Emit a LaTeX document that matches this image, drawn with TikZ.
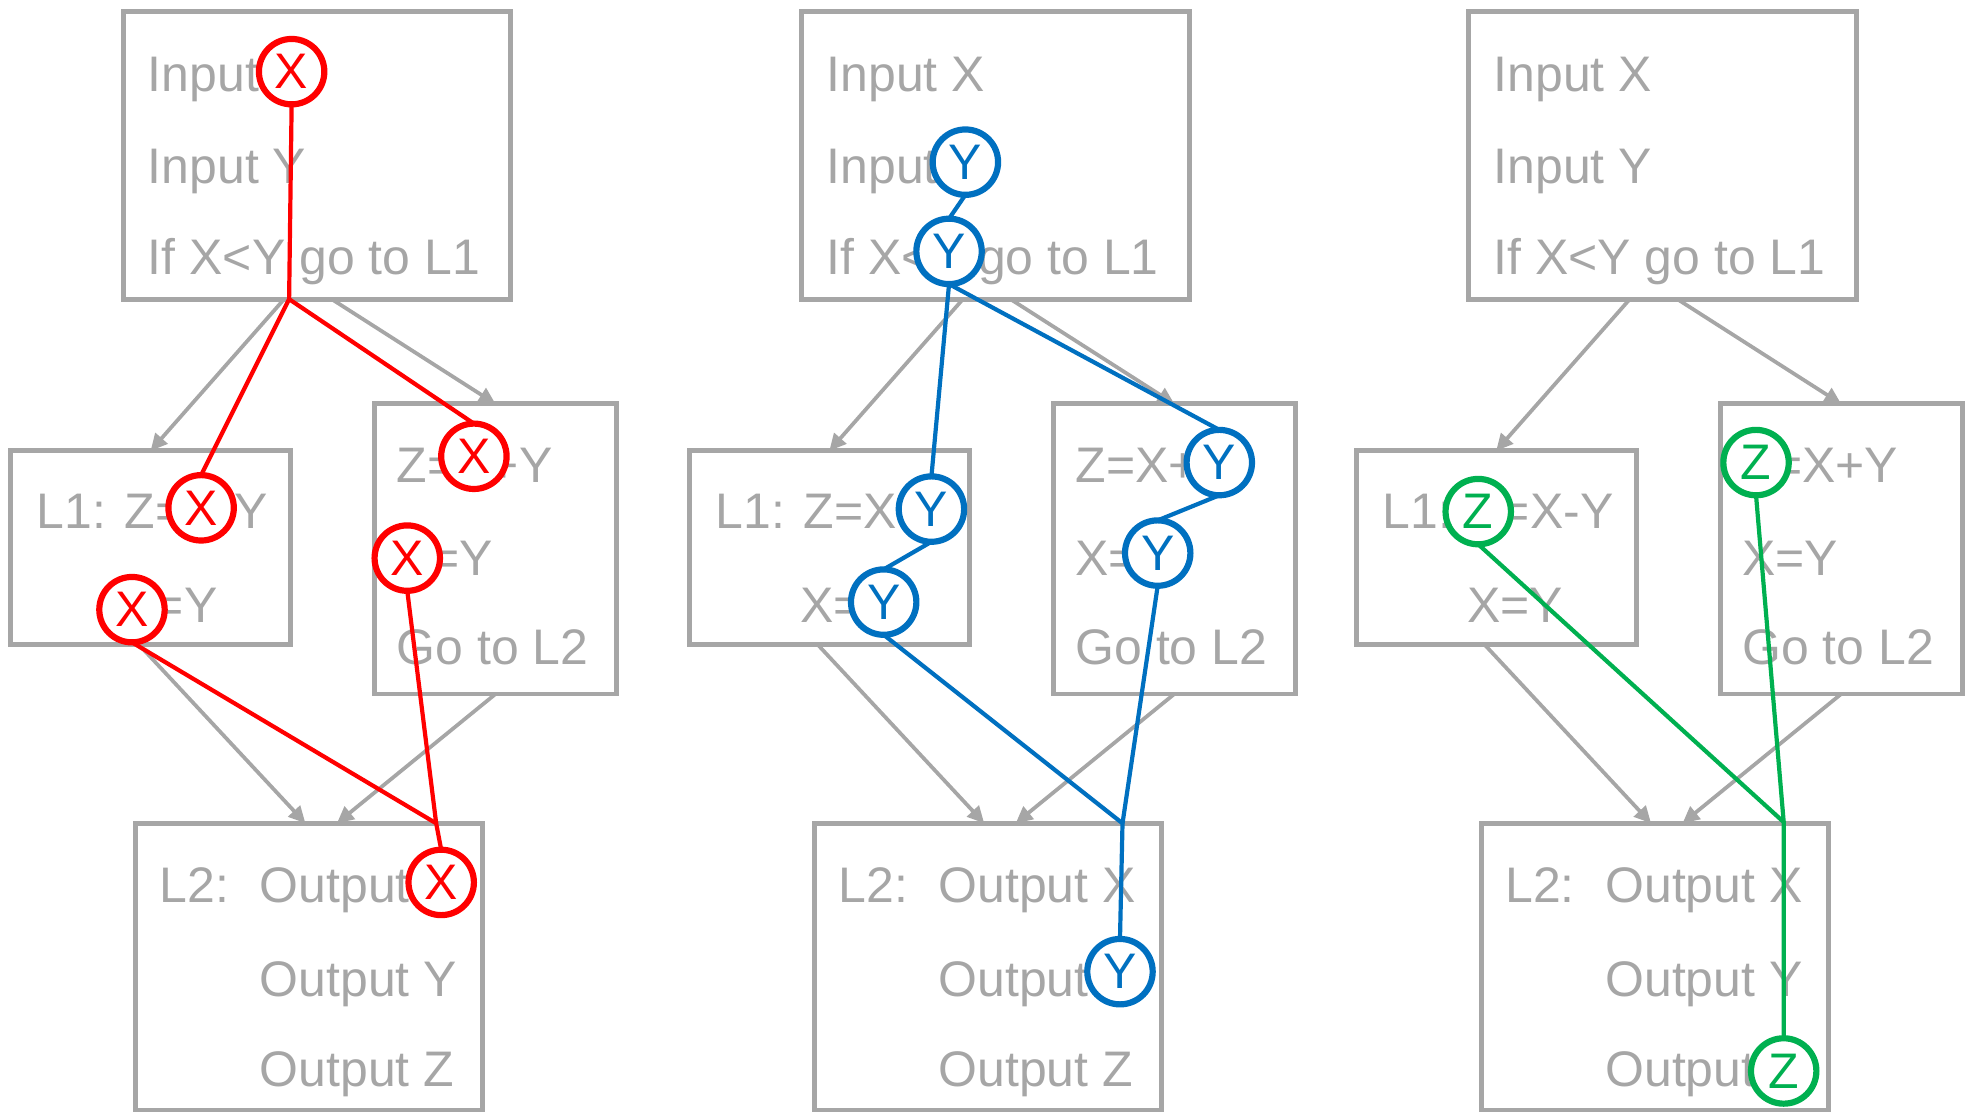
\documentclass[tikz,border=0pt]{standalone}
\usepackage{fontspec}
\setmainfont{Liberation Sans}
\usetikzlibrary{arrows.meta}
\definecolor{abuteks}{RGB}{166,166,166}
\definecolor{merahjejak}{RGB}{255,0,0}
\definecolor{birujejak}{RGB}{0,112,192}
\definecolor{hijaujejak}{RGB}{0,176,80}
\pgfdeclarelayer{back}
\pgfdeclarelayer{flow}
\pgfsetlayers{back,flow,main}

\begin{document}
\begin{tikzpicture}[
    x=0.01cm, y=-0.01cm,
    font=\fontsize{11.3}{13.5}\selectfont,
    blok/.style={draw=abuteks, line width=1.1pt, inner sep=0pt, outer sep=0pt},
    baris/.style={anchor=base west, inner sep=0pt, text=abuteks},
    arah/.style={draw=abuteks, line width=0.85pt, -{Triangle[length=3.8pt, width=3.6pt]}},
    tanda/.style={circle, draw=#1, text=#1, fill=white, line width=1.4pt,
                  minimum size=0.52cm, inner sep=0pt, outer sep=0pt},
    jejak/.style={draw=#1, line width=0.95pt}
  ]
    \useasboundingbox (0,0) rectangle (1568,885);

    % the same program, three times
    \begin{pgfonlayer}{back}
    \foreach \i/\dx in {1/0, 2/540, 3/1070.5} {
      \begin{scope}[shift={(\dx,0)}]
        \node[blok, minimum width=3.08cm, minimum height=2.29cm] (atas\i) at (252,123.5) {};
        \node[blok, minimum width=2.225cm, minimum height=1.543cm] (kiri\i) at (119.75,435.85) {};
        \node[blok, minimum width=1.925cm, minimum height=2.306cm] (kanan\i) at (394.25,436.7) {};
        \node[blok, minimum width=2.76cm, minimum height=2.28cm] (akhir\i) at (246,769) {};

        \node[baris] (inx\i) at (117,72.8) {Input X};
        \node[baris] (iny\i) at (117,145.6) {Input Y};
        \node[baris] (jika\i) at (117,218.5) {If X<Y go to L1};
        \node[baris] (lsatu\i) at (28.6,420.8) {L1: Z=X-Y};
        \node[baris] (lxy\i) at (96,495.5) {X=Y};
        \node[baris] (tambah\i) at (315,383.6) {Z=X+Y};
        \node[baris] (rxy\i) at (315,458) {X=Y};
        \node[baris] (lompat\i) at (315,529) {Go to L2};
        \node[baris] (ldua\i) at (126.4,718) {L2:};
        \node[baris] (ox\i) at (206,718) {Output X};
        \node[baris] (oy\i) at (206,792.5) {Output Y};
        \node[baris] (oz\i) at (206,864.5) {Output Z};

        \draw[arah] ([xshift=-0.26cm]atas\i.south) -- (kiri\i.north);
        \draw[arah] ([xshift=0.12cm]atas\i.south) -- (kanan\i.north);
        \draw[arah] ([xshift=-0.09cm]kiri\i.south) -- ([xshift=-0.03cm]akhir\i.north);
        \draw[arah] (kanan\i.south) -- ([xshift=0.22cm]akhir\i.north);
      \end{scope}
    }
    \end{pgfonlayer}

    % slice on X
    \node[tanda=merahjejak] (mx0) at (232,57) {X};
    \node[tanda=merahjejak] (mx1) at (160,404) {X};
    \node[tanda=merahjejak] (mx2) at (105,485) {X};
    \node[tanda=merahjejak] (mx3) at (377,363) {X};
    \node[tanda=merahjejak] (mx4) at (324,444) {X};
    \node[tanda=merahjejak] (mx5) at (351,702) {X};
    \coordinate (mj1) at (230,238);
    \coordinate (mj2) at (347,655);

    % slice on Y
    \node[tanda=birujejak] (by0) at (768,129) {Y};
    \node[tanda=birujejak] (by1) at (755,200) {Y};
    \node[tanda=birujejak] (by2) at (741,405) {Y};
    \node[tanda=birujejak] (by3) at (703,479) {Y};
    \node[tanda=birujejak] (by4) at (970,368) {Y};
    \node[tanda=birujejak] (by5) at (921,440) {Y};
    \node[tanda=birujejak] (by6) at (891,773) {Y};
    \coordinate (bj) at (893,655);

    % slice on Z
    \node[tanda=hijaujejak] (hz1) at (1176,407) {Z};
    \node[tanda=hijaujejak] (hz2) at (1397,368) {Z};
    \node[tanda=hijaujejak] (hz3) at (1419,852) {Z};
    \coordinate (hj) at (1419,654);

    \begin{pgfonlayer}{flow}
    \draw[jejak=merahjejak] (mx0.south) -- (mj1) -- (mx1.north);
    \draw[jejak=merahjejak] (mj1) -- (mx3.north);
    \draw[jejak=merahjejak] (mx2.south) -- (mj2) -- (mx5.north);
    \draw[jejak=merahjejak] (mx4.south) -- (mj2);

    \draw[jejak=birujejak] (by0.south) -- (by1.north);
    \draw[jejak=birujejak] (by1.south) -- (by2.north);
    \draw[jejak=birujejak] (by2.south) -- (by3.north);
    \draw[jejak=birujejak] (by1.south) -- (by4.north);
    \draw[jejak=birujejak] (by4.south) -- (by5.north);
    \draw[jejak=birujejak] (by3.south) -- (bj) -- (by6.north);
    \draw[jejak=birujejak] (by5.south) -- (bj);

    \draw[jejak=hijaujejak] (hz1.south) -- (hj) -- (hz3.north);
    \draw[jejak=hijaujejak] (hz2.south) -- (hj);
    \end{pgfonlayer}
  \end{tikzpicture}
\end{document}
